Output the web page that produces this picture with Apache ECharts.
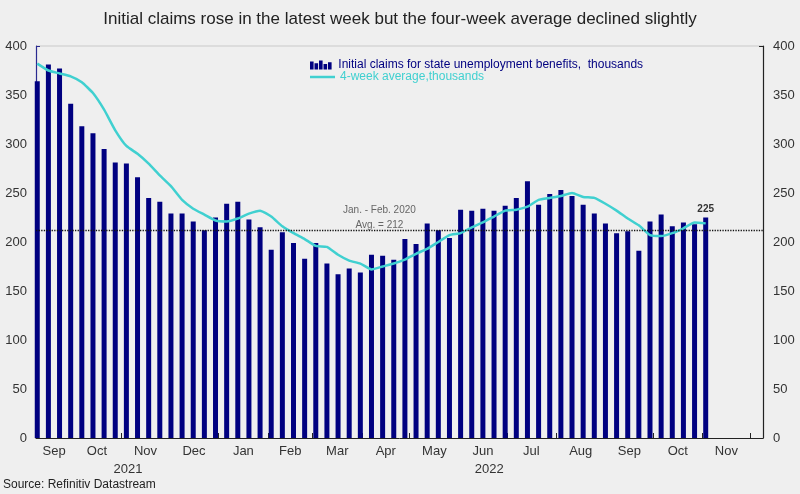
<!DOCTYPE html>
<html>
<head>
<meta charset="utf-8">
<script src="https://cdn.jsdelivr.net/npm/echarts@6/dist/echarts.min.js"></script>
<style>
  html, body { margin: 0; padding: 0; background: #efefef; }
  #chart { width: 800px; height: 494px; }
</style>
</head>
<body>
<div id="chart"></div>
<script>
// ---- data ----
const firstWeek = '2021-09-09';          // date of first weekly observation
const weekCount = 61;
const claims = [364,381,377,341,318,311,295,281,280,266,
                245,241,229,229,221,212,225,239,241,223,
                215,192,210,199,183,199,178,167,173,169,
                187,186,182,203,198,219,212,204,233,232,
                234,232,237,245,262,238,249,253,247,238,
                229,219,209,211,191,221,228,216,220,218,
                225];
const avg4 = [382,375,372,369,363,352,335,314,298,290,
              280,268,257,243,234,228,222,221,224,229,
              232,226,216,209,203,196,195,187,181,178,
              172,175,178,182,188,193,200,207,209,215,
              220,226,232,233,236,243,245,247,250,246,
              245,239,232,224,217,207,206,209,214,220,
              219];
const preCovidAvg = 212;
const annotationText = 'Jan. - Feb. 2020\nAvg. = 212';
const annotationDate = '2022-04-12';
const monthNames = ['Sep','Oct','Nov','Dec','Jan','Feb','Mar','Apr','May','Jun','Jul','Aug','Sep','Oct','Nov'];
const yearLabels = [['2021-11-05','2021'], ['2022-06-20','2022']];
const seriesNames = ['Initial claims for state unemployment benefits,  thousands', '4-week average,thousands'];
const axisStart = '2021-09-08T05:00:00Z';
const axisEnd = '2022-12-09';

// ---- derived ----
const DAY = 864e5;
const t0 = Date.parse(firstWeek);
const weekDates = [];
for (let i = 0; i < weekCount; i++) weekDates.push(t0 + i * 7 * DAY);
const xMin = Date.parse(axisStart);
const xMax = Date.parse(axisEnd);

// month boundaries (Oct 2021 .. Dec 2022)
const monthStarts = [];
for (let k = 0; k < monthNames.length; k++) {
  monthStarts.push(Date.UTC(2021, 9 + k, 1));
}
const bounds = [xMin].concat(monthStarts);
const labelPos = [];
const labelMap = {};
for (let k = 0; k < monthNames.length; k++) {
  const mid = Math.round((bounds[k] + bounds[k + 1]) / 2);
  labelPos.push(mid);
  labelMap[mid] = monthNames[k];
}
const yearPos = yearLabels.map(d => Date.parse(d[0]));
const yearMap = {};
yearLabels.forEach((d, i) => { yearMap[yearPos[i]] = d[1]; });

const NAVY = '#000080';
const TEAL = '#40d0d0';
const FONT = "'Liberation Sans', Arial, sans-serif";

const barData = weekDates.map((t, i) => {
  if (i === weekCount - 1) {
    return { value: [t, claims[i]], label: { show: true, position: 'top', distance: 3,
      color: '#333', fontWeight: 'bold', fontSize: 10, fontFamily: FONT } };
  }
  return [t, claims[i]];
});
const lineData = weekDates.map((t, i) => [t, avg4[i]]);

const chart = echarts.init(document.getElementById('chart'));
chart.setOption({
  backgroundColor: '#efefef',
  animation: false,
  textStyle: { fontFamily: FONT },
  title: {
    text: 'Initial claims rose in the latest week but the four-week average declined slightly',
    left: 'center', top: 6,
    textStyle: { fontFamily: FONT, fontSize: 17, fontWeight: 'normal', color: '#222' }
  },
  graphic: [{
    type: 'text', left: 3, top: 479,
    style: { text: 'Source: Refinitiv Datastream', fontFamily: FONT, fontSize: 12, fill: '#222' }
  }],
  legend: [{
    orient: 'vertical', left: 310, top: 59, itemWidth: 25, itemHeight: 9, padding: 0,
    data: [
      { name: seriesNames[0], icon: 'path://M0,1H4V10H0Z M5,3H9V10H5Z M10,0H14V10H10Z M15,4H19V10H15Z M20,2H24V10H20Z',
        textStyle: { color: NAVY } }
    ],
    textStyle: { fontFamily: FONT, fontSize: 12 }
  }, {
    orient: 'vertical', left: 310, top: 71, itemWidth: 25, itemHeight: 9, padding: 0,
    data: [
      { name: seriesNames[1], icon: 'path://M0,0H26V2.6H0Z', textStyle: { color: TEAL } }
    ],
    textStyle: { fontFamily: FONT, fontSize: 12 }
  }],
  grid: { left: 36, right: 37, top: 46, bottom: 56, containLabel: false },
  xAxis: [{
    type: 'value', min: xMin, max: xMax,
    axisLine: { show: true, onZero: false, lineStyle: { color: '#222', width: 1 } },
    axisTick: { show: true, inside: true, length: 5, customValues: monthStarts, lineStyle: { color: '#222' } },
    axisLabel: { show: true, customValues: labelPos, margin: 7, color: '#333', fontSize: 13, fontFamily: FONT,
      hideOverlap: false, showMinLabel: true, showMaxLabel: true,
      formatter: v => labelMap[v] || '' },
    splitLine: { show: false }
  }, {
    type: 'value', min: xMin, max: xMax, position: 'bottom', offset: 19,
    axisLine: { show: false, onZero: false }, axisTick: { show: false },
    axisLabel: { show: true, customValues: yearPos, margin: 6, color: '#333', fontSize: 13, fontFamily: FONT,
      hideOverlap: false, formatter: v => yearMap[v] || '' },
    splitLine: { show: false }
  }],
  yAxis: [{
    type: 'value', min: 0, max: 400, interval: 50, position: 'left',
    axisLine: { show: true, lineStyle: { color: '#2a2a90', width: 1.2 } },
    axisTick: { show: true, inside: true, length: 4, customValues: [400], lineStyle: { color: '#2a2a90' } },
    axisLabel: { color: '#333', fontSize: 13, fontFamily: FONT, margin: 9 },
    splitLine: { show: true, lineStyle: { color: '#d6d6d6', width: 1.5 } }
  }, {
    type: 'value', min: 0, max: 400, interval: 50, position: 'right',
    axisLine: { show: true, lineStyle: { color: '#222', width: 1.2 } },
    axisTick: { show: true, inside: true, length: 4, customValues: [400], lineStyle: { color: '#222' } },
    axisLabel: { color: '#333', fontSize: 13, fontFamily: FONT, margin: 10 },
    splitLine: { show: false }
  }],
  series: [{
    name: seriesNames[0], type: 'bar', xAxisIndex: 0, yAxisIndex: 0,
    data: barData, barWidth: 5, itemStyle: { color: NAVY },
    markLine: {
      silent: true, symbol: 'none', label: { show: false },
      lineStyle: { color: '#111', type: 'dotted', width: 1.3 },
      data: [{ yAxis: preCovidAvg }]
    },
    markPoint: {
      silent: true, symbol: 'circle', symbolSize: 0,
      label: { show: true, position: 'top', distance: 2, offset: [0, 5], formatter: annotationText,
        color: '#666', fontSize: 10, lineHeight: 15, fontFamily: FONT, align: 'center' },
      data: [{ coord: [Date.parse(annotationDate), preCovidAvg] }]
    },
    z: 2
  }, {
    name: seriesNames[1], type: 'line', xAxisIndex: 0, yAxisIndex: 0,
    data: lineData, symbol: 'none', smooth: 0.15,
    lineStyle: { color: TEAL, width: 2.5 }, itemStyle: { color: TEAL },
    z: 3
  }]
});
</script>
</body>
</html>
